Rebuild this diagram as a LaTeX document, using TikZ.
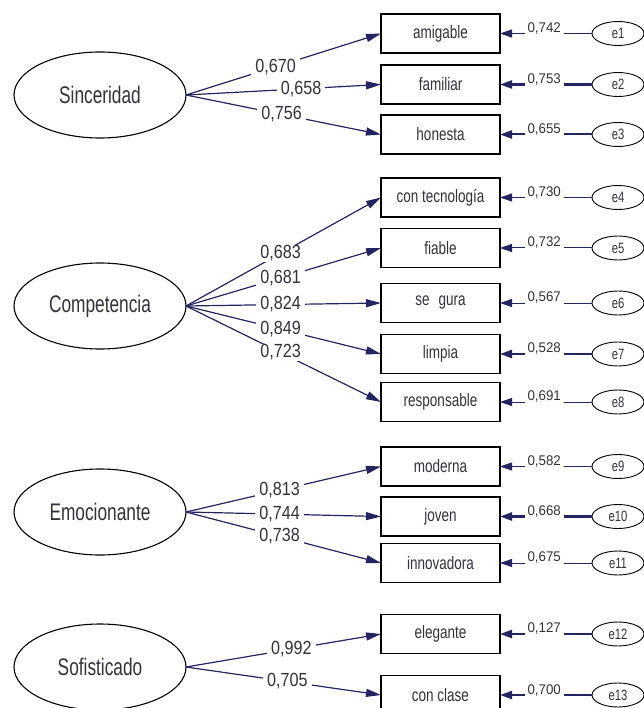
\documentclass[tikz,border=0pt]{standalone}
\usepackage{fontspec}
\setmainfont{Liberation Sans}
\newfontfamily\latfont[FakeStretch=0.72]{Liberation Sans}
\newfontfamily\boxfont[FakeStretch=0.75]{Liberation Sans}
\newfontfamily\numfont[FakeStretch=0.85]{Liberation Sans}
\newfontfamily\smallnum[FakeStretch=0.95]{Liberation Sans}
\usetikzlibrary{arrows.meta,shapes.geometric}

\definecolor{navy}{RGB}{36,36,98}
\definecolor{txtgray}{RGB}{50,50,58}

\tikzset{
  latent/.style={ellipse, draw=black, line width=1.1pt, minimum width=172pt,
    minimum height=86pt, inner sep=0pt, outer sep=0pt,
    font=\latfont\fontsize{24}{26}\selectfont, text=txtgray},
  ind/.style={rectangle, draw=black, line width=1.2pt, minimum width=119pt,
    minimum height=39pt, inner sep=0pt, outer sep=0pt,
    font=\boxfont\fontsize{18}{20}\selectfont, text=txtgray},
  errv/.style={ellipse, draw=black, line width=0.9pt, minimum width=52pt,
    minimum height=24pt, inner sep=0pt, outer sep=0pt,
    font=\boxfont\fontsize{15}{17}\selectfont, text=txtgray},
  loadarr/.style={draw=navy, line width=1.2pt, -{Triangle[length=15pt,width=8pt]}},
  errarr/.style={draw=navy, -{Triangle[length=12pt,width=8pt]}},
  lbl/.style={fill=white, inner xsep=4pt, inner ysep=1pt,
    font=\numfont\fontsize{19}{21}\selectfont, text=txtgray},
  rlbl/.style={fill=white, inner xsep=3pt, inner ysep=1pt, yshift=5pt,
    font=\smallnum\fontsize{14}{16}\selectfont, text=txtgray},
}

\begin{document}
\begin{tikzpicture}[x=1pt,y=-1pt]
\useasboundingbox (0,0) rectangle (643,708);

% latent factors
\node[latent] (sinc) at (100,95)  {Sinceridad};
\node[latent] (comp) at (100,306) {Competencia};
\node[latent] (emoc) at (100,512) {Emocionante};
\node[latent] (sofi) at (100,667) {Sofisticado};

% indicators
\node[ind] (ami) at (440.5,33.5)  {amigable};
\node[ind] (fam) at (440.5,84.5)  {familiar};
\node[ind] (hon) at (440.5,134.5) {honesta};
\node[ind] (tec) at (440.5,197.5) {con tecnología};
\node[ind] (fia) at (440.5,248)   {fiable};
\node[ind] (seg) at (440.5,303)   {se\hspace{0.5em}gura};
\node[ind] (lim) at (440.5,354)   {limpia};
\node[ind] (res) at (440.5,402)   {responsable};
\node[ind] (mod) at (440.5,466.5) {moderna};
\node[ind] (jov) at (440.5,516.5) {joven};
\node[ind] (inn) at (440.5,563)   {innovadora};
\node[ind] (ele) at (440.5,634)   {elegante};
\node[ind] (cla) at (440.5,695)   {con clase};

% error terms
\node[errv] (e1)  at (618,33.5)  {e1};
\node[errv] (e2)  at (618,84.5)  {e2};
\node[errv] (e3)  at (618,134.5) {e3};
\node[errv] (e4)  at (618,197.5) {e4};
\node[errv] (e5)  at (618,248)   {e5};
\node[errv] (e6)  at (618,303)   {e6};
\node[errv] (e7)  at (618,354)   {e7};
\node[errv] (e8)  at (618,402)   {e8};
\node[errv] (e9)  at (618,466.5) {e9};
\node[errv] (e10) at (618,516.5) {e10};
\node[errv] (e11) at (618,563)   {e11};
\node[errv] (e12) at (618,634)   {e12};
\node[errv] (e13) at (618,695)   {e13};

% factor loadings
\draw[loadarr] (sinc.east) -- node[lbl,pos=0.46] {0,670} (ami.west);
\draw[loadarr] (sinc.east) -- node[lbl,pos=0.59] {0,658} (fam.west);
\draw[loadarr] (sinc.east) -- node[lbl,pos=0.49] {0,756} (hon.west);

\draw[loadarr] (comp.east) -- node[lbl,pos=0.485] {0,683} (tec.west);
\draw[loadarr] (comp.east) -- node[lbl,pos=0.485] {0,681} (fia.west);
\draw[loadarr] (comp.east) -- node[lbl,pos=0.485] {0,824} (seg.west);
\draw[loadarr] (comp.east) -- node[lbl,pos=0.485] {0,849} (lim.west);
\draw[loadarr] (comp.east) -- node[lbl,pos=0.485] {0,723} (res.west);

\draw[loadarr] (emoc.east) -- node[lbl,pos=0.48] {0,813} (mod.west);
\draw[loadarr] (emoc.east) -- node[lbl,pos=0.48] {0,744} (jov.west);
\draw[loadarr] (emoc.east) -- node[lbl,pos=0.48] {0,738} (inn.west);

\draw[loadarr] (sofi.east) -- node[lbl,pos=0.54] {0,992} (ele.west);
\draw[loadarr] (sofi.east) -- node[lbl,pos=0.52] {0,705} (cla.west);

% error paths
\draw[errarr, line width=1.4pt] (e1.west)  -- node[rlbl,pos=0.52] {0,742} (ami.east);
\draw[errarr, line width=2.2pt] (e2.west)  -- node[rlbl,pos=0.52] {0,753} (fam.east);
\draw[errarr, line width=2.0pt] (e3.west)  -- node[rlbl,pos=0.52] {0,655} (hon.east);
\draw[errarr, line width=1.0pt] (e4.west)  -- node[rlbl,pos=0.52] {0,730} (tec.east);
\draw[errarr, line width=1.0pt] (e5.west)  -- node[rlbl,pos=0.52] {0,732} (fia.east);
\draw[errarr, line width=1.0pt] (e6.west)  -- node[rlbl,pos=0.52] {0,567} (seg.east);
\draw[errarr, line width=2.6pt] (e7.west)  -- node[rlbl,pos=0.52] {0,528} (lim.east);
\draw[errarr, line width=1.0pt] (e8.west)  -- node[rlbl,pos=0.52] {0,691} (res.east);
\draw[errarr, line width=0.5pt] (e9.west)  -- node[rlbl,pos=0.52] {0,582} (mod.east);
\draw[errarr, line width=2.6pt] (e10.west) -- node[rlbl,pos=0.52] {0,668} (jov.east);
\draw[errarr, line width=1.0pt] (e11.west) -- node[rlbl,pos=0.52] {0,675} (inn.east);
\draw[errarr, line width=2.4pt] (e12.west) -- node[rlbl,pos=0.52] {0,127} (ele.east);
\draw[errarr, line width=2.0pt] (e13.west) -- node[rlbl,pos=0.52] {0,700} (cla.east);
\end{tikzpicture}
\end{document}
